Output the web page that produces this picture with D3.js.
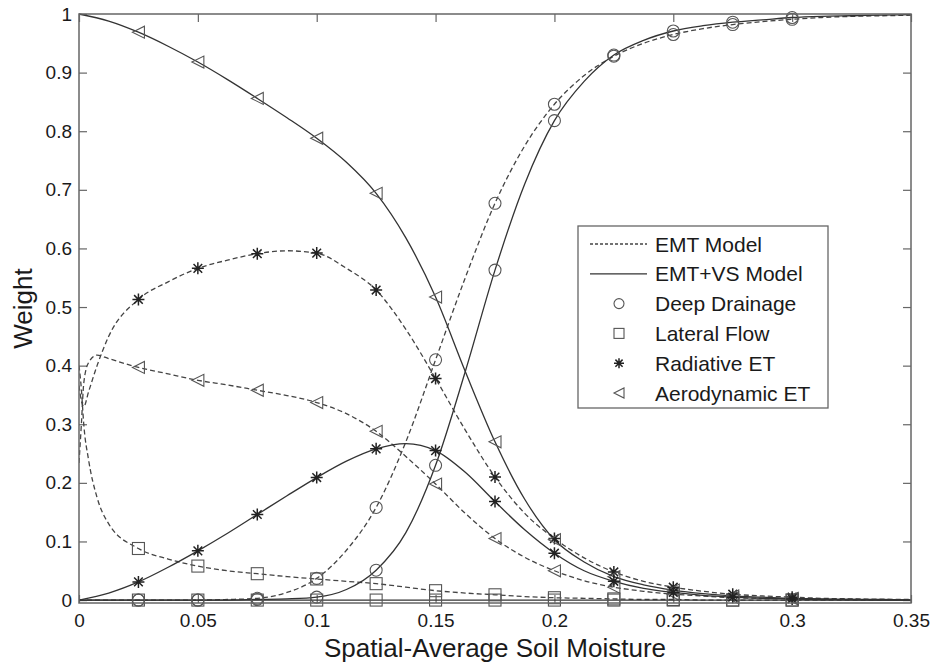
<!DOCTYPE html>
<html>
<head>
<meta charset="utf-8">
<script src="https://cdn.jsdelivr.net/npm/d3@7"></script>
<style>
  body { margin: 0; background: #fff; }
  svg { font-family: "Liberation Sans", Arial, sans-serif; }
</style>
</head>
<body>
<div id="chart"></div>
<script>
// x grid of the EMT+VS curves (solid)
var vsX = [0, 0.0125, 0.025, 0.0375, 0.05, 0.0625, 0.075, 0.0875, 0.1, 0.1125, 0.125, 0.1375, 0.15,
  0.1625, 0.175, 0.1875, 0.2, 0.2125, 0.225, 0.2375, 0.25, 0.2625, 0.275, 0.2875, 0.3, 0.3125, 0.325, 0.3375, 0.35];
// x grid of the EMT curves (dashed), denser near the dry end
var emtX = [0, 0.001, 0.002, 0.004, 0.0076, 0.0125, 0.025, 0.0375, 0.05, 0.0625, 0.075, 0.0875, 0.1, 0.1125,
  0.125, 0.1375, 0.15, 0.1625, 0.175, 0.1875, 0.2, 0.2125, 0.225, 0.2375, 0.25, 0.2625, 0.275, 0.2875, 0.3,
  0.3125, 0.325, 0.3375, 0.35];
var markerX = [0.025, 0.05, 0.075, 0.1, 0.125, 0.15, 0.175, 0.2, 0.225, 0.25, 0.275, 0.3];

var vsDrainage = [0, 0, 0, 0, 0, 0, 0.001, 0.002, 0.005, 0.018, 0.051, 0.115, 0.23, 0.39, 0.563, 0.71, 0.818,
  0.885, 0.93, 0.955, 0.971, 0.98, 0.986, 0.99, 0.994, 0.996, 0.997, 0.998, 0.999];
var vsLateral = [0, 0, 0, 0, 0, 0, 0, 0, 0, 0, 0, 0, 0, 0, 0, 0, 0, 0, 0, 0, 0, 0, 0, 0, 0, 0, 0, 0, 0];
var vsRadiative = [0, 0.012, 0.031, 0.056, 0.084, 0.114, 0.146, 0.178, 0.209, 0.237, 0.258, 0.267, 0.255, 0.218,
  0.168, 0.12, 0.08, 0.05, 0.032, 0.02, 0.013, 0.008, 0.005, 0.003, 0.002, 0.001, 0.001, 0, 0];
var vsAero = [1, 0.988, 0.969, 0.945, 0.918, 0.888, 0.856, 0.823, 0.788, 0.747, 0.694, 0.618, 0.517, 0.39, 0.27,
  0.172, 0.103, 0.065, 0.04, 0.026, 0.017, 0.011, 0.007, 0.005, 0.003, 0.002, 0.001, 0.001, 0];

var emtDrainage = [0, 0, 0, 0, 0, 0, 0, 0, 0, 0.001, 0.003, 0.013, 0.037, 0.085, 0.158, 0.27, 0.41, 0.55, 0.677,
  0.775, 0.846, 0.895, 0.928, 0.95, 0.965, 0.975, 0.982, 0.987, 0.991, 0.994, 0.996, 0.997, 0.998];
var emtLateral = [0.40, 0.36, 0.30, 0.24, 0.175, 0.13, 0.088, 0.07, 0.058, 0.05, 0.045, 0.04, 0.036, 0.032, 0.028,
  0.022, 0.016, 0.012, 0.009, 0.006, 0.004, 0.003, 0.002, 0.001, 0.001, 0, 0, 0, 0, 0, 0, 0, 0];
var emtRadiative = [0.366, 0.34, 0.33, 0.355, 0.40, 0.45, 0.513, 0.543, 0.566, 0.58, 0.591, 0.596, 0.592, 0.566,
  0.529, 0.462, 0.378, 0.29, 0.21, 0.148, 0.105, 0.072, 0.048, 0.032, 0.022, 0.015, 0.01, 0.007, 0.005, 0.003,
  0.002, 0.001, 0.001];
var emtAero = [0.234, 0.30, 0.37, 0.405, 0.418, 0.412, 0.397, 0.386, 0.375, 0.367, 0.358, 0.349, 0.337, 0.318,
  0.288, 0.245, 0.198, 0.148, 0.105, 0.073, 0.05, 0.033, 0.022, 0.015, 0.01, 0.007, 0.004, 0.003, 0.002, 0.001,
  0.001, 0.001, 0];

var xTicks = [0, 0.05, 0.1, 0.15, 0.2, 0.25, 0.3, 0.35];
var yTicks = [0, 0.1, 0.2, 0.3, 0.4, 0.5, 0.6, 0.7, 0.8, 0.9, 1];
var legendNames = ["EMT Model", "EMT+VS Model", "Deep Drainage", "Lateral Flow", "Radiative ET", "Aerodynamic ET"];

var W = 935, H = 666;
var plotL = 79, plotR = 911, plotT = 14, plotB = 603;

var svg = d3.select("#chart").append("svg").attr("width", W).attr("height", H);
svg.append("rect").attr("width", W).attr("height", H).attr("fill", "#fff");

var x = d3.scaleLinear().domain([0, 0.35]).range([plotL, plotR]);
var y = d3.scaleLinear().domain([-0.005, 1]).range([plotB, plotT]);

svg.append("clipPath").attr("id", "plot").append("rect")
  .attr("x", plotL).attr("y", plotT - 2).attr("width", plotR - plotL).attr("height", plotB - plotT + 2);

var fmt = function(d) { return +d.toFixed(2) + ""; };

function styleAxis(g) {
  g.select(".domain").remove();
  g.selectAll(".tick line").attr("stroke", "#666").attr("stroke-width", 1.2);
  g.selectAll(".tick text").attr("fill", "#1a1a1a").attr("font-size", 19)
    .attr("font-family", "Liberation Sans, Arial, sans-serif");
}

svg.append("g").attr("transform", "translate(0," + plotB + ")")
  .call(d3.axisBottom(x).tickValues(xTicks).tickFormat(fmt).tickSize(-8).tickPadding(11)).call(styleAxis);
svg.append("g").attr("transform", "translate(0," + plotT + ")")
  .call(d3.axisTop(x).tickValues(xTicks).tickFormat("").tickSize(-8)).call(styleAxis);
svg.append("g").attr("transform", "translate(" + plotL + ",0)")
  .call(d3.axisLeft(y).tickValues(yTicks).tickFormat(fmt).tickSize(-8).tickPadding(7)).call(styleAxis);
svg.append("g").attr("transform", "translate(" + plotR + ",0)")
  .call(d3.axisRight(y).tickValues(yTicks).tickFormat("").tickSize(-8)).call(styleAxis);

// marker shapes
function drawMarker(g, kind, r) {
  if (kind === "circle") {
    g.append("circle").attr("r", r);
  } else if (kind === "square") {
    g.append("rect").attr("x", -r).attr("y", -r).attr("width", 2 * r).attr("height", 2 * r);
  } else if (kind === "star") {
    var s = r * 0.72;
    g.attr("stroke", "#222").attr("stroke-width", 1.5);
    g.append("path").attr("d", "M" + (-r) + ",0H" + r + "M0," + (-r) + "V" + r +
      "M" + (-s) + "," + (-s) + "L" + s + "," + s + "M" + (-s) + "," + s + "L" + s + "," + (-s));
  } else if (kind === "tri") {
    g.append("path").attr("d", "M" + (-r) + ",0L" + r + "," + (-r) + "L" + r + "," + r + "Z");
  }
}

var series = [
  {xs: emtX, ys: emtLateral, dash: true, kind: "square"},
  {xs: emtX, ys: emtAero, dash: true, kind: "tri"},
  {xs: emtX, ys: emtRadiative, dash: true, kind: "star"},
  {xs: emtX, ys: emtDrainage, dash: true, kind: "circle"},
  {xs: vsX, ys: vsLateral, dash: false, kind: "square"},
  {xs: vsX, ys: vsAero, dash: false, kind: "tri"},
  {xs: vsX, ys: vsRadiative, dash: false, kind: "star"},
  {xs: vsX, ys: vsDrainage, dash: false, kind: "circle"}
];

var line = d3.line().x(function(d) { return x(d[0]); }).y(function(d) { return y(d[1]); })
  .curve(d3.curveMonotoneX);

var plot = svg.append("g").attr("clip-path", "url(#plot)");

series.forEach(function(s) {
  var pts = s.xs.map(function(v, i) { return [v, s.ys[i]]; });
  plot.append("path").datum(pts).attr("d", line)
    .attr("fill", "none")
    .attr("stroke", s.dash ? "#444" : "#333")
    .attr("stroke-width", 1.3)
    .attr("stroke-dasharray", s.dash ? "5,3" : null);
});

series.forEach(function(s) {
  var pts = s.xs.map(function(v, i) { return [v, s.ys[i]]; }).filter(function(p) {
    return markerX.some(function(m) { return Math.abs(m - p[0]) < 1e-9; });
  });
  pts.forEach(function(p) {
    var g = svg.append("g").attr("transform", "translate(" + x(p[0]) + "," + y(p[1]) + ")")
      .attr("fill", "none").attr("stroke", "#555").attr("stroke-width", 1.1);
    drawMarker(g, s.kind, 6);
  });
});

// frame
svg.append("rect").attr("x", plotL).attr("y", plotT).attr("width", plotR - plotL).attr("height", plotB - plotT)
  .attr("fill", "none").attr("stroke", "#666").attr("stroke-width", 1.5);

// legend
var lg = svg.append("g");
lg.append("rect").attr("x", 578).attr("y", 226).attr("width", 250).attr("height", 182)
  .attr("fill", "#fff").attr("stroke", "#666").attr("stroke-width", 1.3);
var kinds = [null, null, "circle", "square", "star", "tri"];
legendNames.forEach(function(name, i) {
  var ly = 244 + i * 29.8;
  if (i < 2) {
    lg.append("line").attr("x1", 590).attr("x2", 647).attr("y1", ly).attr("y2", ly)
      .attr("stroke", i === 0 ? "#444" : "#333").attr("stroke-width", 1.3)
      .attr("stroke-dasharray", i === 0 ? "3,2" : null);
  } else {
    var g = lg.append("g").attr("transform", "translate(619," + ly + ")")
      .attr("fill", "none").attr("stroke", "#555").attr("stroke-width", 1.1);
    drawMarker(g, kinds[i], 5);
  }
  lg.append("text").attr("x", 655).attr("y", ly).attr("dy", "0.36em")
    .attr("font-size", 21).attr("fill", "#1a1a1a").text(name);
});

// axis titles
svg.append("text").attr("x", (plotL + plotR) / 2).attr("y", 657).attr("text-anchor", "middle")
  .attr("font-size", 26).attr("fill", "#1a1a1a").text("Spatial-Average Soil Moisture");
svg.append("text").attr("transform", "translate(32," + ((plotT + plotB) / 2) + ") rotate(-90)")
  .attr("text-anchor", "middle").attr("font-size", 26).attr("fill", "#1a1a1a").text("Weight");
</script>
</body>
</html>
